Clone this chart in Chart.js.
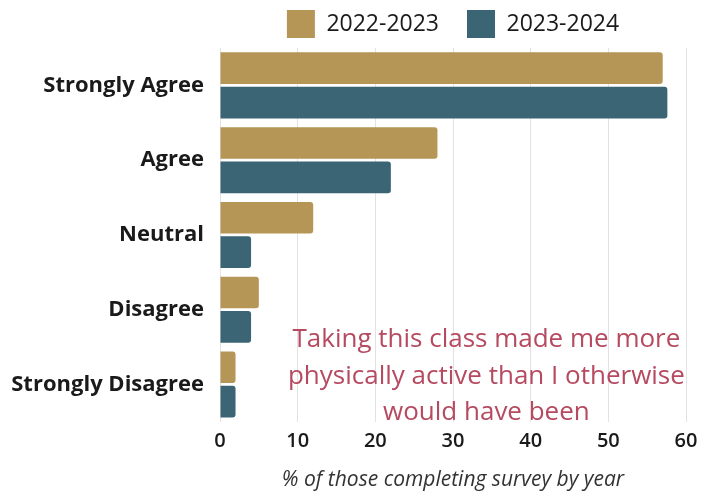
<!DOCTYPE html>
<html>
<head>
<meta charset="utf-8">
<script src="https://cdn.jsdelivr.net/npm/chart.js@4"></script>
<style>
  html, body { margin: 0; padding: 0; background: #fff; }
  .chart-container { position: relative; width: 716px; height: 494px; }
</style>
</head>
<body>
<div class="chart-container">
  <canvas id="chart" width="716" height="494"></canvas>
</div>
<script>
const RESPONSES = ['Strongly Agree', 'Agree', 'Neutral', 'Disagree', 'Strongly Disagree'];
const YEARS = ['2022-2023', '2023-2024'];
const PCT_2022 = [57, 28, 12, 5, 2];
const PCT_2023 = [57.6, 22, 4, 4, 2];
const X_TICKS = [0, 10, 20, 30, 40, 50, 60];
const NOTE_LINES = [
  'Taking this class made me more',
  'physically active than I otherwise',
  'would have been',
];

const TAN = '#b59656';
const TEAL = '#3b6575';
const FONT = "'Open Sans', 'Noto Sans', sans-serif";

// statement text sitting inside the empty lower right part of the plot
const notePlugin = {
  id: 'note',
  afterDatasetsDraw(chart) {
    const { ctx, scales } = chart;
    const cx = scales.x.getPixelForValue(34.3);
    const top = scales.y.getPixelForValue(3.4);
    const step = (scales.y.getPixelForValue(4) - scales.y.getPixelForValue(3)) * 0.49;
    ctx.save();
    ctx.font = `400 26px ${FONT}`;
    ctx.fillStyle = '#b64a60';
    ctx.textAlign = 'center';
    ctx.textBaseline = 'middle';
    NOTE_LINES.forEach((line, i) => ctx.fillText(line, cx, top + i * step));
    ctx.restore();
  },
};

new Chart(document.getElementById('chart'), {
  type: 'bar',
  data: {
    labels: RESPONSES,
    datasets: [
      { label: YEARS[0], data: PCT_2022, backgroundColor: TAN },
      { label: YEARS[1], data: PCT_2023, backgroundColor: TEAL },
    ],
  },
  options: {
    indexAxis: 'y',
    responsive: false,
    animation: false,
    categoryPercentage: 0.92,
    barPercentage: 0.92,
    layout: { padding: { top: -18, right: 30, bottom: 1, left: 0 } },
    datasets: { bar: { borderRadius: 3 } },
    scales: {
      x: {
        min: 0,
        max: 60,
        afterBuildTicks(scale) {
          scale.ticks = X_TICKS.map(v => ({ value: v }));
        },
        grid: { color: '#e2e2e2', drawTicks: false },
        border: { display: false },
        ticks: { color: '#1a1a1a', padding: 7, font: { family: FONT, size: 20, weight: '600' } },
        title: {
          display: true,
          text: '% of those completing survey by year',
          color: '#333',
          padding: { top: 8, bottom: 0 },
          font: { family: FONT, size: 21, style: 'italic' },
        },
      },
      y: {
        afterFit(scale) { scale.width = 220; },
        grid: { display: false },
        border: { display: false },
        ticks: { color: '#1a1a1a', padding: 8, font: { family: FONT, size: 22, weight: '700' } },
      },
    },
    plugins: {
      legend: {
        position: 'top',
        fullSize: false,
        maxHeight: 68,
        labels: {
          boxWidth: 28,
          boxHeight: 28,
          padding: 28,
          color: '#1a1a1a',
          font: { family: FONT, size: 23, weight: '500' },
        },
      },
      tooltip: { enabled: false },
    },
  },
  plugins: [notePlugin],
});
</script>
</body>
</html>
